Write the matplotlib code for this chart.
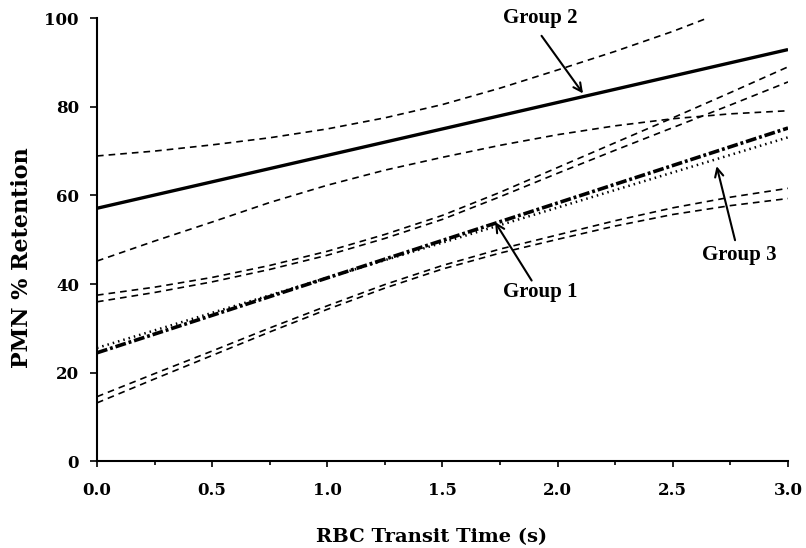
import numpy as np
import matplotlib
matplotlib.use("Agg")
import matplotlib.pyplot as plt
from matplotlib.ticker import MultipleLocator

# ---- data ----
x_fit = [0.0, 3.0]
group2_fit = [57.1, 92.9]
group1_fit = [24.5, 75.2]
group3_fit = [25.6, 73.1]

x_band = [0.0, 0.25, 0.5, 0.75, 1.0, 1.25, 1.5, 1.75, 2.0, 2.25, 2.5, 2.75, 3.0]
group2_upper_x = [0.0, 0.25, 0.5, 0.75, 1.0, 1.25, 1.5, 1.75, 2.0, 2.25, 2.5, 2.65]
group2_upper = [68.9, 70.0, 71.4, 73.0, 75.0, 77.5, 80.5, 84.2, 88.3, 92.5, 97.0, 100.0]
group2_lower = [45.2, 49.7, 54.0, 58.4, 62.3, 65.7, 68.6, 71.3, 73.7, 75.7, 77.3, 78.4, 79.1]
upper_a = [37.5, 39.3, 41.5, 44.2, 47.4, 51.2, 55.5, 60.7, 66.3, 71.9, 77.5, 83.2, 89.0]
upper_b = [36.0, 38.1, 40.5, 43.3, 46.5, 50.3, 54.6, 59.7, 65.0, 70.2, 75.3, 80.4, 85.6]
lower_c = [14.6, 19.8, 24.9, 30.1, 35.1, 39.9, 44.2, 47.9, 51.1, 54.3, 57.2, 59.6, 61.6]
lower_d = [13.2, 18.6, 23.9, 29.2, 34.3, 39.1, 43.4, 47.0, 50.1, 53.1, 55.7, 57.7, 59.3]

x_ticks = [0.0, 0.5, 1.0, 1.5, 2.0, 2.5, 3.0]
x_ticklabels = ["0.0", "0.5", "1.0", "1.5", "2.0", "2.5", "3.0"]
y_ticks = [0, 20, 40, 60, 80, 100]
y_ticklabels = ["0", "20", "40", "60", "80", "100"]

labels = ["Group 2", "Group 1", "Group 3"]
label_xy = [(1.924, 100.0), (1.925, 38.3), (2.79, 46.6)]
arrow_tail = [(1.93, 96.0), (1.887, 40.8), (2.77, 49.9)]
arrow_head = [(2.11, 83.0), (1.728, 54.0), (2.69, 66.6)]

# ---- figure ----
fig = plt.figure(figsize=(8.06, 5.48), dpi=100)
ax = fig.add_axes([0.1203, 0.158, 0.8574, 0.809])

dash = (0, (4.0, 3.0))
kw_band = dict(color="black", lw=1.2, linestyle=dash)
ax.plot(group2_upper_x, group2_upper, **kw_band)
ax.plot(x_band, group2_lower, **kw_band)
ax.plot(x_band, upper_a, **kw_band)
ax.plot(x_band, upper_b, **kw_band)
ax.plot(x_band, lower_c, **kw_band)
ax.plot(x_band, lower_d, **kw_band)

ax.plot(x_fit, group2_fit, color="black", lw=2.4, solid_capstyle="butt")
ax.plot(x_fit, group1_fit, color="black", lw=2.6, linestyle=(0, (3.0, 0.8, 0.8, 0.8)))
ax.plot(x_fit, group3_fit, color="black", lw=1.8, linestyle=(0, (0.6, 1.6)))

txt_font = dict(family="Liberation Serif", size=15, weight="bold")
for lab, (tx, ty), tail, head in zip(labels, label_xy, arrow_tail, arrow_head):
    ax.text(tx, ty, lab, ha="center", va="center", fontdict=txt_font, clip_on=False)
    ax.annotate("", xy=head, xytext=tail,
                arrowprops=dict(arrowstyle="->,head_length=0.6,head_width=0.3",
                                color="black", lw=1.5, shrinkA=0, shrinkB=0),
                annotation_clip=False)

ax.set_xlim(0, 3.0)
ax.set_ylim(0, 100)
ax.spines["top"].set_visible(False)
ax.spines["right"].set_visible(False)
ax.spines["left"].set_linewidth(1.5)
ax.spines["bottom"].set_linewidth(1.5)

ax.set_xticks(x_ticks)
ax.set_xticklabels(x_ticklabels)
ax.xaxis.set_minor_locator(MultipleLocator(0.25))
ax.set_yticks(y_ticks)
ax.set_yticklabels(y_ticklabels)
ax.tick_params(axis="x", which="major", direction="out", length=4, width=1.2, pad=11)
ax.tick_params(axis="x", which="minor", direction="out", length=3, width=1.2)
ax.tick_params(axis="y", which="major", direction="out", length=5, width=1.2, pad=8)

tick_font = dict(family="DejaVu Serif", size=12, weight="bold")
for t in ax.get_xticklabels() + ax.get_yticklabels():
    t.set_fontfamily(tick_font["family"])
    t.set_fontsize(tick_font["size"])
    t.set_fontweight(tick_font["weight"])

fig.text(431.5 / 806, 5.5 / 548, "RBC Transit Time (s)", family="DejaVu Serif",
         size=14, weight="bold", ha="center", va="baseline")
fig.text(22 / 806, 1 - 258 / 548, "PMN % Retention", family="DejaVu Serif",
         size=16, weight="bold", ha="center", va="center", rotation=90)

fig.savefig("out.png", dpi=100)
